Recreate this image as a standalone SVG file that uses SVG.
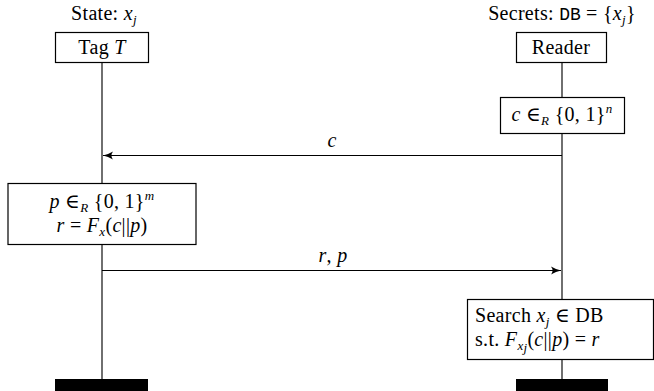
<svg xmlns="http://www.w3.org/2000/svg" width="654" height="391" viewBox="0 0 654 391">
<defs>
<marker id="ah" viewBox="0 0 10 10" refX="10" refY="5" markerWidth="10" markerHeight="10" markerUnits="userSpaceOnUse" orient="auto">
<path d="M0,1 Q5,4 10,5 Q5,6 0,9 Q3,5 0,1 Z" fill="#000"/>
</marker>
<style>
text{font-family:"Liberation Serif","DejaVu Serif",serif;font-size:20px;fill:#000;letter-spacing:0.3px}
.m{font-style:italic}
.s{font-size:13px;font-style:italic}
.tt{font-family:"Liberation Mono","DejaVu Sans Mono",monospace;font-size:18px;letter-spacing:0}
.box{fill:#fff;stroke:#000;stroke-width:1.2}
.life{stroke:#333;stroke-width:1.4;fill:none}
.msg{stroke:#000;stroke-width:1.2;fill:none}
.c{text-anchor:middle}
</style>
</defs>
<rect width="654" height="391" fill="#fff"/>
<g id="lifelines">
<line class="life" x1="102" y1="63" x2="102" y2="380"/>
<line class="life" x1="562" y1="63" x2="562" y2="380"/>
</g>
<g id="tag">
<text x="104" y="20" class="c">State:  <tspan class="m">x</tspan><tspan class="s" dy="4">j</tspan></text>
<rect class="box" x="55.5" y="32.5" width="93" height="30"/>
<text x="102" y="54" class="c">Tag <tspan class="m">T</tspan></text>
</g>
<g id="reader">
<text x="562" y="20" class="c">Secrets: <tspan class="tt">DB</tspan> = {<tspan class="m">x</tspan><tspan class="s" dy="4">j</tspan><tspan dy="-4">}</tspan></text>
<rect class="box" x="516.5" y="32.5" width="90" height="30"/>
<text x="561" y="54" class="c">Reader</text>
</g>
<g id="challenge">
<rect class="box" x="500.5" y="97.5" width="124" height="36"/>
<text x="562" y="121" class="c"><tspan class="m">c</tspan> ∈<tspan class="s" dy="4">R</tspan><tspan dy="-4"> {0, 1}</tspan><tspan class="s" dy="-8">n</tspan></text>
</g>
<g id="tagcompute">
<rect class="box" x="8" y="183.5" width="188" height="61"/>
<text x="102" y="208" class="c"><tspan class="m">p</tspan> ∈<tspan class="s" dy="4">R</tspan><tspan dy="-4"> {0, 1}</tspan><tspan class="s" dy="-8">m</tspan></text>
<text x="102" y="232" class="c"><tspan class="m">r</tspan> = <tspan class="m">F</tspan><tspan class="s" dy="4">x</tspan><tspan dy="-4">(</tspan><tspan class="m">c</tspan>||<tspan class="m">p</tspan>)</text>
</g>
<g id="search">
<rect class="box" x="467.5" y="299.5" width="186" height="60"/>
<text x="475" y="322">Search <tspan class="m">x</tspan><tspan class="s" dy="4">j</tspan><tspan dy="-4"> ∈ DB</tspan></text>
<text x="475" y="346">s.t. <tspan class="m">F</tspan><tspan class="s" font-size="12" dy="4">x</tspan><tspan class="s" font-size="9" dy="2">j</tspan><tspan dy="-6">(</tspan><tspan class="m">c</tspan>||<tspan class="m">p</tspan>) = <tspan class="m">r</tspan></text>
</g>
<g id="connectors">
<line class="msg" x1="562" y1="155.5" x2="103" y2="155.5" marker-end="url(#ah)"/>
<text x="332" y="147" class="c m">c</text>
<line class="msg" x1="102" y1="270.5" x2="561" y2="270.5" marker-end="url(#ah)"/>
<text x="333" y="262" class="c"><tspan class="m">r</tspan>, <tspan class="m">p</tspan></text>
</g>
<g id="ends">
<rect x="55" y="379" width="93" height="12" fill="#000"/>
<rect x="516" y="379" width="92" height="12" fill="#000"/>
</g>
</svg>
